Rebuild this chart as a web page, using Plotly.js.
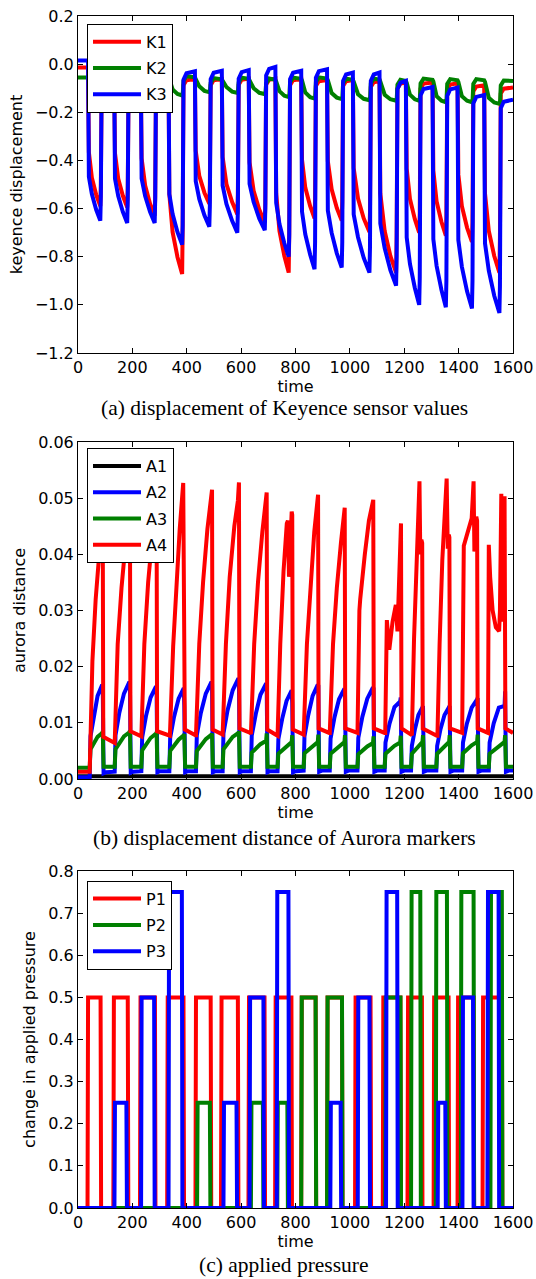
<!DOCTYPE html>
<html>
<head>
<meta charset="utf-8">
<script src="https://cdn.plot.ly/plotly-3.0.1.min.js"></script>
<style>html,body{margin:0;padding:0;background:#fff}#chart{width:536px;height:1279px}</style>
</head>
<body>
<div id="chart"></div>
<script>
// ---------- (a) Keyence sensor values ----------
const Kt = [0,
37,40,51,67,82,84,87,98,
133,136,148,165,181,183,186,197,
231,234,247,265,282,284,287,298,
333,336,348,366,383,385,388,399,
430,433,446,465,483,485,488,499,
529,532,546,567,586,588,591,602,
628,631,646,667,687,689,692,703,
726,729,741,759,775,777,780,791,
821,824,836,854,870,872,875,886,
916,919,933,952,970,972,975,986,
1011,1014,1030,1051,1072,1074,1077,1088,
1109,1112,1128,1149,1170,1172,1175,1186,
1206,1209,1221,1239,1255,1257,1260,1271,
1304,1307,1319,1337,1353,1355,1358,1369,
1396,1399,1412,1431,1449,1451,1454,1465,
1494,1497,1511,1531,1550,1552,1555,1566,
1600];
const K1 = [-0.014,
-0.014,-0.366,-0.472,-0.543,-0.59,-0.51,-0.085,-0.065,
-0.06,-0.369,-0.476,-0.547,-0.595,-0.515,-0.085,-0.065,
-0.06,-0.391,-0.504,-0.58,-0.63,-0.55,-0.085,-0.065,
-0.06,-0.541,-0.698,-0.802,-0.872,-0.68,-0.087,-0.067,
-0.062,-0.36,-0.464,-0.534,-0.58,-0.50,-0.087,-0.067,
-0.062,-0.386,-0.498,-0.573,-0.623,-0.543,-0.085,-0.065,
-0.06,-0.408,-0.526,-0.605,-0.658,-0.578,-0.085,-0.065,
-0.06,-0.537,-0.693,-0.797,-0.866,-0.70,-0.087,-0.067,
-0.062,-0.397,-0.513,-0.59,-0.641,-0.561,-0.091,-0.071,
-0.066,-0.403,-0.52,-0.598,-0.65,-0.57,-0.091,-0.071,
-0.066,-0.432,-0.558,-0.641,-0.697,-0.617,-0.095,-0.075,
-0.07,-0.537,-0.693,-0.797,-0.866,-0.72,-0.101,-0.081,
-0.076,-0.434,-0.56,-0.644,-0.70,-0.62,-0.101,-0.081,
-0.076,-0.442,-0.57,-0.656,-0.713,-0.633,-0.105,-0.085,
-0.08,-0.458,-0.59,-0.679,-0.738,-0.658,-0.113,-0.093,
-0.088,-0.537,-0.693,-0.797,-0.866,-0.72,-0.122,-0.102,
-0.097];
const K2 = [-0.055,
-0.055,-0.062,-0.085,-0.104,-0.11,-0.11,-0.07,-0.05,
-0.055,-0.062,-0.09,-0.109,-0.115,-0.115,-0.07,-0.05,
-0.055,-0.062,-0.095,-0.114,-0.12,-0.12,-0.07,-0.05,
-0.055,-0.062,-0.105,-0.124,-0.13,-0.13,-0.07,-0.05,
-0.055,-0.062,-0.092,-0.111,-0.117,-0.117,-0.078,-0.058,
-0.063,-0.07,-0.095,-0.114,-0.12,-0.12,-0.076,-0.056,
-0.061,-0.068,-0.10,-0.119,-0.125,-0.125,-0.08,-0.06,
-0.065,-0.072,-0.112,-0.131,-0.137,-0.137,-0.076,-0.056,
-0.061,-0.068,-0.118,-0.137,-0.143,-0.143,-0.075,-0.055,
-0.06,-0.067,-0.12,-0.139,-0.145,-0.145,-0.08,-0.06,
-0.065,-0.072,-0.125,-0.144,-0.15,-0.15,-0.08,-0.06,
-0.065,-0.072,-0.127,-0.146,-0.152,-0.152,-0.085,-0.065,
-0.07,-0.077,-0.127,-0.146,-0.152,-0.152,-0.08,-0.06,
-0.065,-0.072,-0.133,-0.152,-0.158,-0.158,-0.082,-0.062,
-0.067,-0.074,-0.133,-0.152,-0.158,-0.158,-0.082,-0.062,
-0.067,-0.074,-0.14,-0.159,-0.165,-0.165,-0.088,-0.068,
-0.07];
const K3 = [0.015,
0.015,-0.468,-0.54,-0.605,-0.65,-0.55,-0.055,-0.028,
-0.02,-0.475,-0.548,-0.614,-0.66,-0.56,-0.055,-0.028,
-0.02,-0.475,-0.548,-0.614,-0.66,-0.56,-0.06,-0.033,
-0.025,-0.54,-0.623,-0.698,-0.75,-0.67,-0.065,-0.038,
-0.03,-0.486,-0.56,-0.628,-0.675,-0.59,-0.063,-0.036,
-0.028,-0.504,-0.581,-0.651,-0.70,-0.61,-0.06,-0.033,
-0.025,-0.497,-0.573,-0.642,-0.69,-0.60,-0.047,-0.02,
-0.012,-0.576,-0.664,-0.744,-0.80,-0.713,-0.063,-0.036,
-0.028,-0.613,-0.707,-0.792,-0.852,-0.74,-0.056,-0.029,
-0.021,-0.608,-0.701,-0.786,-0.845,-0.74,-0.07,-0.043,
-0.035,-0.624,-0.719,-0.805,-0.866,-0.76,-0.07,-0.043,
-0.035,-0.662,-0.764,-0.856,-0.92,-0.80,-0.104,-0.077,
-0.069,-0.72,-0.83,-0.93,-1.0,-0.89,-0.13,-0.103,
-0.095,-0.727,-0.838,-0.939,-1.01,-0.9,-0.132,-0.105,
-0.097,-0.731,-0.842,-0.944,-1.015,-0.9,-0.163,-0.136,
-0.128,-0.744,-0.858,-0.962,-1.034,-0.92,-0.183,-0.156,
-0.148];

// ---------- (b) Aurora markers ----------
const At = [0,
43,46,58,72,89,91,94,104,
135,138,152,169,189,191,194,204,
233,236,250,267,287,289,292,302,
336,339,353,370,389,391,394,404,
434,437,452,470,491,493,496,506,
532,535,550,569,590,592,595,605,
636,639,654,671,692,694,697,707,
734,737,751,767,786,788,791,801,
830,833,847,863,882,884,887,897,
926,929,943,960,980,982,985,995,
1028,1031,1046,1064,1085,1087,1090,1100,
1128,1131,1146,1164,1185,1187,1190,1200,
1225,1228,1239,1252,1267,1269,1272,1282,
1318,1321,1333,1348,1365,1367,1370,1380,
1413,1416,1430,1448,1468,1470,1473,1483,
1511,1514,1529,1548,1569,1571,1574,1584,
1600];
const A1t = [0, 1600];
const A1 = [0.0005, 0.0005];
const A2 = [0.0003,
0.0003,0.0076,0.0114,0.0148,0.0168,0.0166,0.0010,0.0012,
0.0013,0.0078,0.0118,0.0152,0.0173,0.0171,0.0011,0.0013,
0.0014,0.0074,0.0112,0.0145,0.0165,0.0163,0.0012,0.0014,
0.0014,0.0073,0.011,0.0143,0.0162,0.013,0.0012,0.0014,
0.0014,0.0078,0.0118,0.0152,0.0173,0.0171,0.0012,0.0014,
0.0014,0.0081,0.0122,0.0158,0.0179,0.0177,0.0012,0.0014,
0.0014,0.0077,0.0116,0.015,0.017,0.0168,0.0012,0.0014,
0.0014,0.0071,0.0107,0.0139,0.0158,0.0135,0.0012,0.0014,
0.0015,0.0076,0.0114,0.0148,0.0168,0.0166,0.0013,0.0015,
0.0015,0.0072,0.0109,0.0142,0.0161,0.0159,0.0013,0.0015,
0.0015,0.0073,0.0111,0.0143,0.0163,0.0161,0.0013,0.0015,
0.0015,0.0065,0.0099,0.0128,0.0138,0.0145,0.0013,0.0015,
0.0015,0.0059,0.0088,0.0114,0.0128,0.013,0.0013,0.0015,
0.0015,0.0059,0.0088,0.0114,0.0128,0.013,0.0013,0.0015,
0.0015,0.0065,0.0098,0.0127,0.0142,0.0144,0.0013,0.0015,
0.0015,0.0065,0.0099,0.0127,0.013,0.0156,0.0013,0.0015,
0.0015];
const A3 = [0.0020,
0.0020,0.0053,0.0064,0.0075,0.0082,0.0085,0.0022,0.0022,
0.0022,0.0053,0.0065,0.0076,0.0083,0.0086,0.0022,0.0022,
0.0022,0.0051,0.0062,0.0073,0.0081,0.0083,0.0022,0.0022,
0.0022,0.005,0.006,0.007,0.0078,0.008,0.0022,0.0022,
0.0022,0.005,0.0061,0.0071,0.0079,0.0081,0.0022,0.0022,
0.0022,0.0053,0.0064,0.0075,0.0082,0.0085,0.0022,0.0022,
0.0022,0.0047,0.0053,0.0062,0.0068,0.0081,0.0022,0.0022,
0.0022,0.0045,0.0051,0.0059,0.0066,0.0078,0.0022,0.0022,
0.0022,0.0046,0.0052,0.006,0.0066,0.0079,0.0022,0.0022,
0.0022,0.0045,0.0051,0.0059,0.0066,0.0078,0.0022,0.0022,
0.0022,0.0044,0.005,0.0058,0.0064,0.0076,0.0022,0.0022,
0.0022,0.0045,0.0051,0.0059,0.0065,0.0077,0.0022,0.0022,
0.0022,0.0045,0.0051,0.0059,0.0066,0.0078,0.0022,0.0022,
0.0022,0.0045,0.0051,0.0059,0.0066,0.0078,0.0022,0.0022,
0.0022,0.0046,0.0052,0.006,0.0066,0.0079,0.0022,0.0022,
0.0022,0.0045,0.0051,0.0059,0.0066,0.0078,0.0022,0.0022,
0.0022];
const A4t = [0,43,
53,65,78,91,93,130,
135,146,160,175,191,193,230,
233,244,258,273,289,291,335,
338,350,362,374,387,389,391,393,432,
434,446,460,476,493,495,530,
532,544,558,575,588,592,594,634,
636,648,662,678,694,696,732,
734,744,756,768,772,776,786,788,790,828,
830,842,855,869,883,885,924,
926,938,952,967,981,983,1026,
1028,1035,1038,1055,1070,1086,1088,1128,
1130,1136,1145,1157,1169,1175,1188,1190,1226,
1228,1236,1246,1256,1259,1263,1266,1268,1320,
1322,1330,1340,1356,1360,1364,1366,1368,1411,
1413,1419,1448,1455,1458,1465,1468,1470,1506,
1508,1511,1516,1525,1537,1549,1552,1557,1561,1566,1569,1572,1600];
const A4 = [0.0013,0.0013,
0.021,0.032,0.040,0.046,0.0075,0.0064,
0.0064,0.024,0.034,0.042,0.048,0.0085,0.0076,
0.0076,0.024,0.035,0.043,0.049,0.0085,0.0077,
0.0077,0.0236,0.0355,0.0444,0.0527,0.0363,0.0435,0.0088,0.0078,
0.0078,0.024,0.035,0.0445,0.0515,0.0088,0.0079,
0.0079,0.024,0.036,0.045,0.0495,0.0528,0.009,0.0082,
0.008,0.024,0.035,0.044,0.051,0.0088,0.0077,
0.0077,0.024,0.037,0.0455,0.046,0.036,0.0476,0.047,0.0088,0.0079,
0.0079,0.024,0.035,0.044,0.0506,0.009,0.0082,
0.0082,0.024,0.034,0.042,0.0483,0.009,0.0082,
0.0082,0.030,0.032,0.040,0.046,0.0497,0.009,0.0082,
0.0082,0.0283,0.023,0.028,0.031,0.0263,0.0455,0.009,0.0078,
0.0078,0.025,0.040,0.053,0.040,0.0426,0.042,0.009,0.0077,
0.0077,0.024,0.039,0.0535,0.041,0.0435,0.043,0.009,0.0082,
0.0082,0.0415,0.0464,0.053,0.0405,0.0467,0.046,0.009,0.0082,
0.0082,0.0417,0.036,0.030,0.027,0.0263,0.030,0.0508,0.028,0.050,0.050,0.009,0.0082];

// ---------- (c) applied pressure: pulse on/off times and levels ----------
const P1_on  = [35,130,228,328,432,526,627,725,821,916,1019,1121,1212,1308,1396,1488];
const P1_off = [85,185,285,390,490,590,688,787,876,973,1078,1188,1267,1365,1457,1561];
const P1_lvl = [0.5,0.5,0.5,0.5,0.5,0.5,0.5,0.5,0.5,0.5,0.5,0.5,0.5,0.5,0.5,0.5];
const P2_on  = [438,636,733,821,916,1130,1225,1316,1408,1517];
const P2_off = [487,682,772,876,973,1188,1261,1359,1457,1561];
const P2_lvl = [0.25,0.25,0.25,0.5,0.5,0.5,0.75,0.75,0.75,0.75];
const P3_on  = [134,232,333,535,631,731,928,1029,1133,1323,1414,1506];
const P3_off = [180,282,384,585,684,776,968,1074,1176,1353,1455,1549];
const P3_lvl = [0.25,0.5,0.75,0.25,0.5,0.75,0.25,0.5,0.75,0.25,0.5,0.75];
const T_END = 1600;

function steps(on, off, lvl) {
  const x = [0], y = [0];
  for (let i = 0; i < on.length; i++) {
    x.push(on[i], on[i] + 2, off[i] - 2, off[i]);
    y.push(0, lvl[i], lvl[i], 0);
  }
  x.push(T_END); y.push(0);
  return {x, y};
}

const RED = '#ff0000', GREEN = '#008000', BLUE = '#0000ff', BLACK = '#000000';
const LW = 4;
function tr(name, x, y, color, xa, ya, leg) {
  return {type: 'scatter', mode: 'lines', name, x, y, xaxis: xa, yaxis: ya, legend: leg,
          legendgroup: name, line: {color, width: LW}, hoverinfo: 'skip'};
}
const p1 = steps(P1_on, P1_off, P1_lvl), p2 = steps(P2_on, P2_off, P2_lvl), p3 = steps(P3_on, P3_off, P3_lvl);

const data = [
  tr('K1', Kt, K1, RED, 'x', 'y', 'legend'),
  tr('K2', Kt, K2, GREEN, 'x', 'y', 'legend'),
  tr('K3', Kt, K3, BLUE, 'x', 'y', 'legend'),
  tr('A1', A1t, A1, BLACK, 'x2', 'y2', 'legend2'),
  tr('A2', At, A2, BLUE, 'x2', 'y2', 'legend2'),
  tr('A3', At, A3, GREEN, 'x2', 'y2', 'legend2'),
  tr('A4', A4t, A4, RED, 'x2', 'y2', 'legend2'),
  tr('P1', p1.x, p1.y, RED, 'x3', 'y3', 'legend3'),
  tr('P2', p2.x, p2.y, GREEN, 'x3', 'y3', 'legend3'),
  tr('P3', p3.x, p3.y, BLUE, 'x3', 'y3', 'legend3')
];

const FONT = 'DejaVu Sans';
const TICKF = {family: FONT, size: 16, color: 'black'};
function xax(anchor) {
  return {anchor, domain: [0, 1], range: [0, 1600], dtick: 200, tick0: 0,
    ticks: 'inside', ticklen: 5, tickcolor: 'black', mirror: 'ticks', showline: true,
    linecolor: 'black', linewidth: 1, showgrid: false, zeroline: false, tickfont: TICKF,
    title: {text: 'time', font: {family: FONT, size: 16, color: 'black'}, standoff: 2}};
}
function yax(anchor, domain, range, dtick, fmt, title) {
  return {anchor, domain, range, dtick, tick0: 0, tickformat: fmt,
    ticks: 'inside', ticklen: 5, tickcolor: 'black', mirror: 'ticks', showline: true,
    linecolor: 'black', linewidth: 1, showgrid: false, zeroline: false, tickfont: TICKF,
    title: {text: title, font: {family: FONT, size: 16, color: 'black'}, standoff: 8}};
}
function leg(y) {
  return {x: 0.0207, y, xanchor: 'left', yanchor: 'top', bgcolor: 'white',
    bordercolor: 'black', borderwidth: 1, itemwidth: 48, tracegroupgap: 2.5,
    traceorder: 'grouped', font: {family: FONT, size: 16, color: 'black'}};
}
const CAP = {family: 'Liberation Serif', size: 21.5, color: 'black'};
const layout = {
  width: 536, height: 1279, margin: {l: 78, r: 23, t: 16, b: 71},
  paper_bgcolor: 'white', plot_bgcolor: 'white', showlegend: true,
  xaxis: xax('y'), xaxis2: xax('y2'), xaxis3: xax('y3'),
  yaxis: yax('x', [0.71728, 1], [-1.2, 0.2], 0.2, '.1f', 'keyence displacement'),
  yaxis2: yax('x2', [0.3599, 0.64262], [0, 0.06], 0.01, '.2f', 'aurora distance'),
  yaxis3: yax('x3', [0, 0.28272], [0, 0.8], 0.1, '.1f', 'change in applied pressure'),
  legend: leg(0.9935), legend2: leg(0.6376), legend3: leg(0.2746),
  annotations: [
    {text: '(a) displacement of Keyence sensor values', xref: 'paper', yref: 'paper', x: 0.4736, y: 0.6711, xanchor: 'center', yanchor: 'middle', showarrow: false, font: CAP},
    {text: '(b) displacement distance of Aurora markers', xref: 'paper', yref: 'paper', x: 0.4736, y: 0.3104, xanchor: 'center', yanchor: 'middle', showarrow: false, font: CAP},
    {text: '(c) applied pressure', xref: 'paper', yref: 'paper', x: 0.4736, y: -0.0478, xanchor: 'center', yanchor: 'middle', showarrow: false, font: CAP}
  ]
};
Plotly.newPlot('chart', data, layout, {displayModeBar: false, staticPlot: true});
</script>
</body>
</html>
